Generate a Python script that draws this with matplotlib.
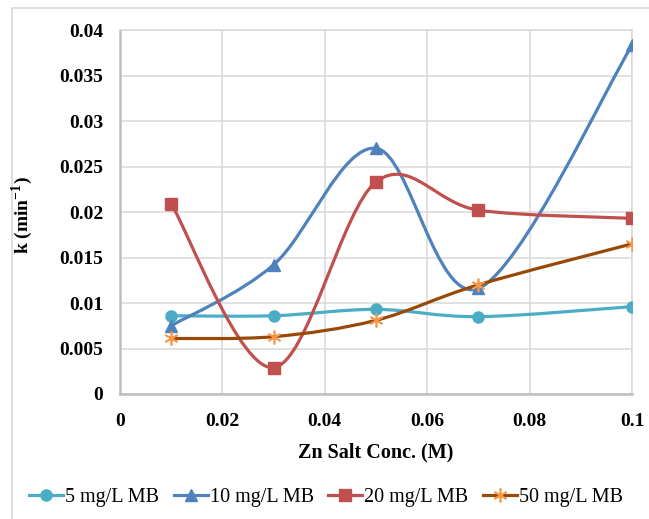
import numpy as np
import matplotlib.pyplot as plt
from matplotlib.path import Path
from matplotlib.patches import PathPatch, Rectangle
from matplotlib.lines import Line2D

# values
zn_conc = [0.01, 0.03, 0.05, 0.07, 0.1]
k_5mg = [0.0086, 0.0086, 0.0093, 0.0085, 0.0096]
k_10mg = [0.0075, 0.0142, 0.0270, 0.0116, 0.0383]
k_20mg = [0.0209, 0.0029, 0.0233, 0.0202, 0.0193]
k_50mg = [0.0061, 0.0063, 0.0081, 0.0120, 0.0165]

series_labels = ["5 mg/L MB", "10 mg/L MB", "20 mg/L MB", "50 mg/L MB"]
x_ticks = [0, 0.02, 0.04, 0.06, 0.08, 0.1]
x_tick_labels = ["0", "0.02", "0.04", "0.06", "0.08", "0.1"]
y_ticks = [0, 0.005, 0.01, 0.015, 0.02, 0.025, 0.03, 0.035, 0.04]
y_tick_labels = ["0", "0.005", "0.01", "0.015", "0.02", "0.025", "0.03", "0.035", "0.04"]

plt.rcParams["font.family"] = ["Liberation Serif", "DejaVu Serif"]
plt.rcParams["mathtext.fontset"] = "custom"
plt.rcParams["mathtext.rm"] = "Liberation Serif"
plt.rcParams["mathtext.bf"] = "Liberation Serif:bold"


def smooth_path(x, y):
    # excel style smoothed line: bezier segments through the points
    pts = np.column_stack([x, y])
    n = len(pts)
    verts = [pts[0]]
    codes = [Path.MOVETO]
    for i in range(n - 1):
        p0 = pts[max(i - 1, 0)]
        p1 = pts[i]
        p2 = pts[i + 1]
        p3 = pts[min(i + 2, n - 1)]
        verts += [p1 + (p2 - p0) / 6, p2 - (p3 - p1) / 6, p2]
        codes += [Path.CURVE4] * 3
    return Path(verts, codes)


fig = plt.figure(figsize=(6.49, 5.19), dpi=100)
fig.patches.append(Rectangle((12 / 649, -0.1), 1.2, (519 - 8) / 519 + 0.1,
                             transform=fig.transFigure, fill=False,
                             edgecolor="#d9d9d9", lw=1.2))
ax = fig.add_axes([120 / 649, 1 - 394 / 519, 512 / 649, 364 / 519])

styles = [
    (k_5mg, "#4bacc6", "#4bacc6", "o", 8),
    (k_10mg, "#4f81bd", "#4f81bd", "^", 8.5),
    (k_20mg, "#c0504d", "#c0504d", "s", 8),
    (k_50mg, "#984807", "#f79646", (6, 2, 0), 10),
]

handles = []
for (vals, lc, mc, mk, ms), lab in zip(styles, series_labels):
    ax.add_patch(PathPatch(smooth_path(zn_conc, vals), fill=False,
                           edgecolor=lc, lw=2.3, zorder=3))
    if mk == (6, 2, 0):
        ax.plot(zn_conc, vals, ls="none", marker=mk, ms=ms, mec=mc,
                mew=1.2, zorder=4)
    else:
        ax.plot(zn_conc, vals, ls="none", marker=mk, ms=ms, mfc=mc,
                mec=mc, zorder=4)
    handles.append(Line2D([], [], color=lc, lw=2.3, marker=mk, ms=ms,
                          mfc=mc, mec=mc, mew=1.2 if mk == (6, 2, 0) else 1))

ax.set_xlim(0, 0.1)
ax.set_ylim(0, 0.04)
ax.set_xticks(x_ticks)
ax.set_xticklabels(x_tick_labels, fontweight="bold", fontsize=14)
ax.set_yticks(y_ticks)
ax.set_yticklabels(y_tick_labels, fontweight="bold", fontsize=14)
ax.tick_params(axis="x", length=0, pad=14)
ax.tick_params(axis="y", length=0, pad=12)
ax.grid(True, color="#d9d9d9", lw=1.1)
ax.set_axisbelow(True)
for side in ["top", "right"]:
    ax.spines[side].set_color("#d9d9d9")
    ax.spines[side].set_linewidth(1.1)
for side in ["left", "bottom"]:
    ax.spines[side].set_color("#bfbfbf")
    ax.spines[side].set_linewidth(1.8)

ax.set_xlabel("Zn Salt Conc. (M)", fontweight="bold", fontsize=14.5, labelpad=9)
fig.text(22 / 649, 1 - 215 / 519, r"k (min$^{\mathbf{-1}}$)", rotation=90,
         fontweight="bold", fontsize=14, ha="center", va="center")

fig.legend(handles=handles, labels=series_labels, loc="center",
           bbox_to_anchor=(326 / 649, 1 - 497 / 519), ncol=4, frameon=False,
           fontsize=14.5, handlelength=1.7, handletextpad=0.1, columnspacing=0.7)

fig.savefig("out.png", dpi=100)
